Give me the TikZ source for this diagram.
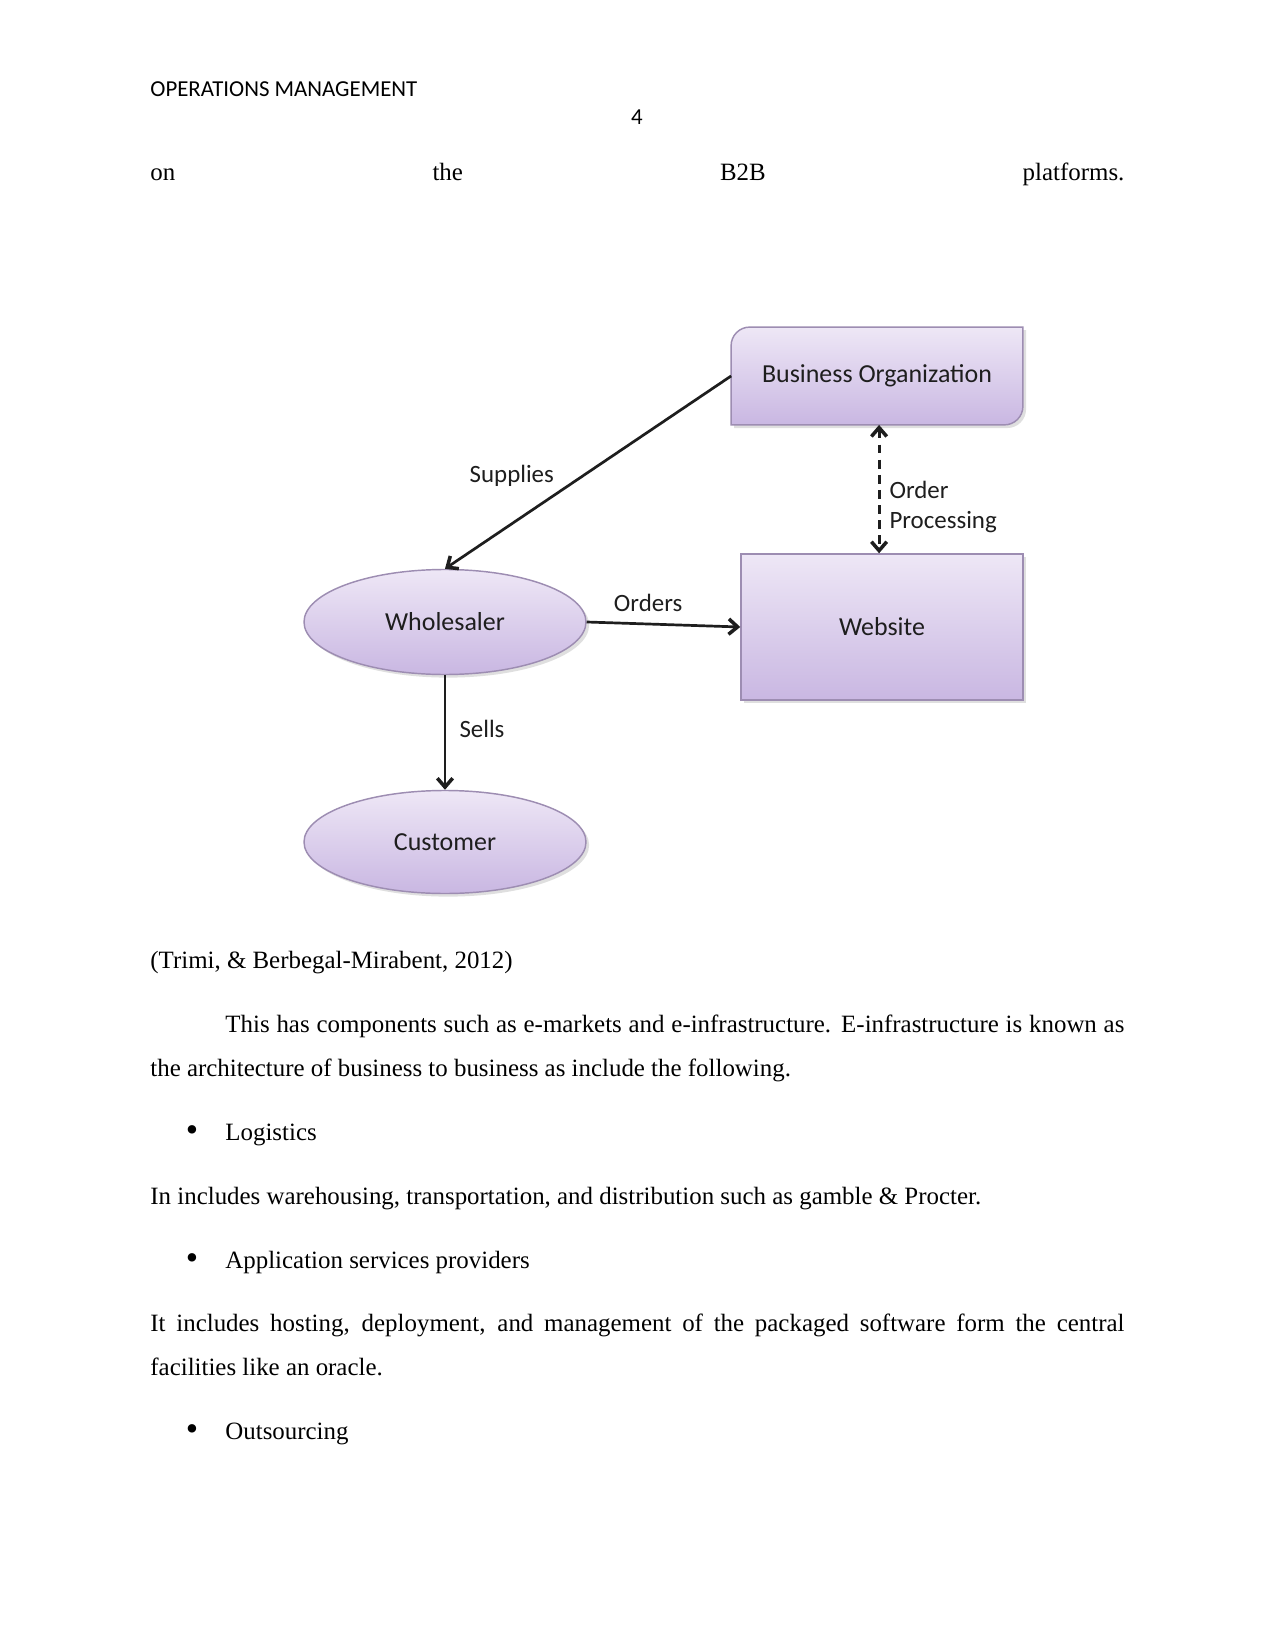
\documentclass[tikz,border=0pt]{standalone}
\usepackage{fontspec}
\setmainfont{Liberation Serif}
\newfontfamily\calfont{Carlito}
\usetikzlibrary{arrows.meta,shadows,shapes.geometric,backgrounds}

\definecolor{boxtop}{HTML}{EEE7F6}
\definecolor{boxbot}{HTML}{C9B7E2}
\definecolor{boxrim}{HTML}{9D8DB2}
\definecolor{inkgray}{HTML}{1E1E1E}

\newlength\pageu
\setlength\pageu{0.4818pt}   % one pixel of the page

\begin{document}
\begin{tikzpicture}[x=\pageu, y=-\pageu,
    pagetext/.style={font=\fontsize{12}{14}\selectfont, anchor=base west, inner sep=0pt},
    headtext/.style={font=\calfont\fontsize{11}{13}\selectfont, anchor=base west, inner sep=0pt},
    shapefill/.style={draw=boxrim, line width=0.7pt, top color=boxtop, bottom color=boxbot,
        drop shadow={shadow xshift=1.5pt, shadow yshift=-1.5pt, opacity=0.25}},
    boxlabel/.style={font=\calfont\fontsize{12.5}{15}\selectfont, text=inkgray},
    squarebox/.style={shapefill, boxlabel, rectangle},
    ovalbox/.style={shapefill, boxlabel, ellipse, inner sep=0pt},
    barb/.tip={Straight Barb[length=1.5mm, width=2.6mm, line width=1.7pt]},
    flow/.style={draw=inkgray, line width=1.3pt, -barb},
    flowlabel/.style={font=\calfont\fontsize{12}{14.2}\selectfont, text=inkgray},
]

% ── Page ────────────────────────────────────────────────────
\begin{scope}[on background layer]
\fill[white] (0,0) rectangle (1275,1651);
\end{scope}

\node[headtext] (head) at (150,97) {OPERATIONS MANAGEMENT};
\node[headtext, anchor=base] (pagenum) at (637,125) {4};

\node[pagetext] (line1) at (150,181) {\makebox[974\pageu][s]{on the B2B platforms.}};

% ── Diagram nodes ───────────────────────────────────────────
\node[boxlabel, minimum width=291*\pageu, minimum height=97*\pageu] (bo) at (877,376)
    {Business Organization};
\node[squarebox, minimum width=282*\pageu, minimum height=146*\pageu] (web) at (882,627)
    {Website};
\node[ovalbox, minimum width=282*\pageu, minimum height=105*\pageu] (ws) at (445,622)
    {Wholesaler};
\node[ovalbox, minimum width=282*\pageu, minimum height=103*\pageu] (cu) at (445,842)
    {Customer};

% Business Organization: two rounded corners
\begin{scope}[on background layer]
\path[shapefill] (bo.south west) [rounded corners=9pt] -- (bo.north west) [sharp corners]
    -- (bo.north east) [rounded corners=9pt] -- (bo.south east) [sharp corners] -- cycle;
\end{scope}

% ── Connectors ──────────────────────────────────────────────
\draw[flow] (bo.west) -- (ws.north)
    node[flowlabel, pos=0.6, anchor=south east, inner sep=2pt] {Supplies};
\draw[flow] (ws.east) -- (web.west)
    node[flowlabel, pos=0.4, above=2pt] {Orders};
\draw[flow] (ws.south) -- (cu.north)
    node[flowlabel, pos=0.47, right=3pt] {Sells};
\draw[flow, line width=1.4pt, dash pattern=on 4.3pt off 3pt, barb-barb]
    ([xshift=1pt]bo.south) -- ([xshift=1pt]bo.south |- web.north)
    node[flowlabel, pos=0.64, right=1pt, align=left] {Order\\Processing};

% ── Text below ──────────────────────────────────────────────
\node[pagetext] (cite) at (150,968) {(Trimi, \& Berbegal-Mirabent, 2012)};

\node[pagetext] (par1) at (225,1032)
    {\makebox[899\pageu][s]{This has components such as e-markets and e-infrastructure. E-infrastructure is known as}};
\node[pagetext] (par2) at (150,1076) {the architecture of business to business as include the following.};

\foreach \nm/\yy/\txt in {logi/1140/Logistics, asp/1268/Application services providers, outs/1439/Outsourcing} {
    \node[pagetext, anchor=base, font=\fontsize{17}{17}\selectfont] (dot\nm) at (192,\yy+1) {\textbullet};
    \node[pagetext] (item\nm) at (225,\yy) {\txt};
}

\node[pagetext] (par3) at (150,1204)
    {In includes warehousing, transportation, and distribution such as gamble \& Procter.};
\node[pagetext] (par4) at (150,1331)
    {\makebox[974\pageu][s]{It includes hosting, deployment, and management of the packaged software form the central}};
\node[pagetext] (par5) at (150,1375) {facilities like an oracle.};

\end{tikzpicture}
\end{document}
